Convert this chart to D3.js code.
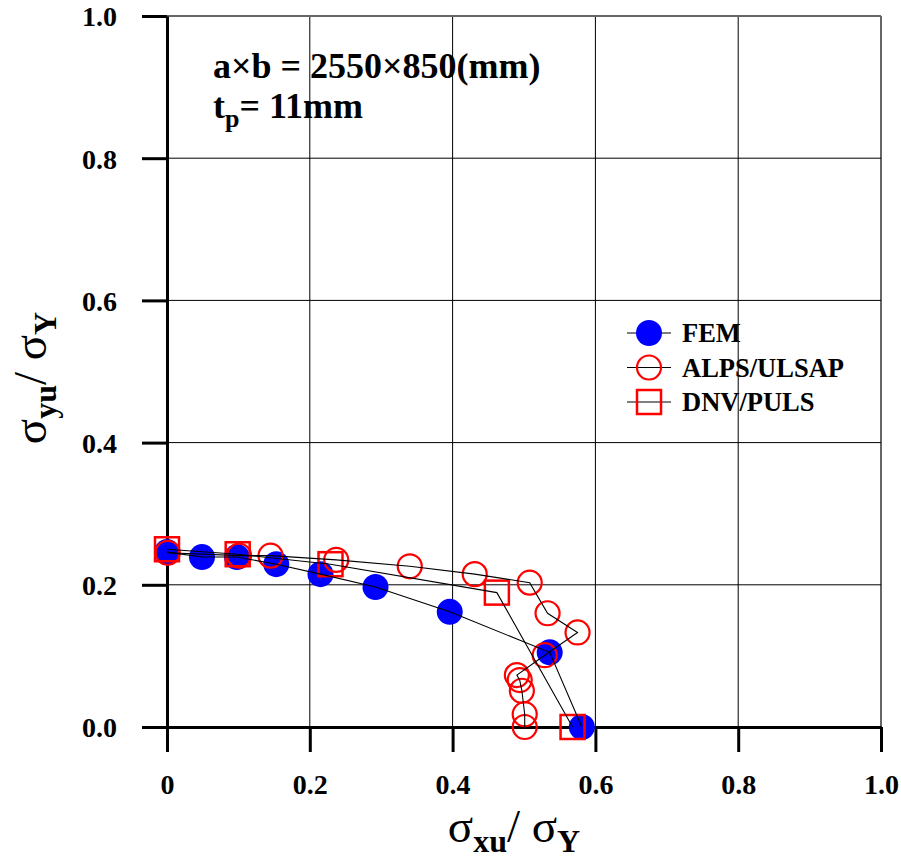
<!DOCTYPE html>
<html>
<head>
<meta charset="utf-8">
<script src="https://cdn.jsdelivr.net/npm/d3@7"></script>
<style>
  body { margin: 0; background: #fff; }
  text { font-family: "Liberation Serif", "Times New Roman", serif; font-weight: bold; }
</style>
</head>
<body>
<div id="chart"></div>
<script>
// values
const femX = [0, 0.049, 0.098, 0.153, 0.215, 0.292, 0.396, 0.536, 0.581];
const femY = [0.246, 0.239, 0.239, 0.229, 0.215, 0.197, 0.162, 0.105, 0];

const alpsX = [0.001, 0.101, 0.145, 0.237, 0.340, 0.431, 0.508, 0.533, 0.575, 0.529, 0.490, 0.494, 0.497, 0.501, 0.501];
const alpsY = [0.245, 0.241, 0.241, 0.235, 0.226, 0.215, 0.203, 0.160, 0.133, 0.101, 0.073, 0.066, 0.051, 0.018, 0];

const dnvX = [0, 0.099, 0.229, 0.462, 0.568];
const dnvY = [0.250, 0.243, 0.229, 0.189, 0];

const xTicks = [0, 0.2, 0.4, 0.6, 0.8, 1.0];
const yTicks = [0, 0.2, 0.4, 0.6, 0.8, 1.0];
const xTickLabels = ["0", "0.2", "0.4", "0.6", "0.8", "1.0"];
const yTickLabels = ["0.0", "0.2", "0.4", "0.6", "0.8", "1.0"];

const seriesNames = ["FEM", "ALPS/ULSAP", "DNV/PULS"];

var W = 901, H = 862;
var margin = {top: 16, right: 20, bottom: 135, left: 167};
var width = 881 - margin.left,
    height = 727 - margin.top;

var svg = d3.select("#chart").append("svg")
    .attr("width", W)
    .attr("height", H)
  .append("g")
    .attr("transform", "translate(" + margin.left + "," + margin.top + ")");

var x = d3.scaleLinear().domain([0, 1]).range([0, width]);
var y = d3.scaleLinear().domain([0, 1]).range([height, 0]);

// grid
svg.selectAll("vgrid")
  .data(xTicks.slice(1))
  .enter().append("line")
    .attr("x1", d => x(d)).attr("x2", d => x(d))
    .attr("y1", y(0)).attr("y2", y(1))
    .attr("stroke", d => d == 1 ? "#333" : "#000")
    .attr("stroke-width", d => d == 1 ? 1.5 : 1);

svg.selectAll("hgrid")
  .data(yTicks.slice(1))
  .enter().append("line")
    .attr("x1", x(0)).attr("x2", x(1))
    .attr("y1", d => y(d)).attr("y2", d => y(d))
    .attr("stroke", d => d == 1 ? "#666" : "#000")
    .attr("stroke-width", d => d == 1 ? 2 : 1);

// axes
var xAxis = svg.append("g")
  .attr("transform", "translate(0," + height + ")")
  .call(d3.axisBottom(x).tickValues(xTicks).tickSize(25).tickSizeOuter(0).tickPadding(22)
        .tickFormat((d, i) => xTickLabels[i]));

var yAxis = svg.append("g")
  .call(d3.axisLeft(y).tickValues(yTicks).tickSize(25).tickSizeOuter(0).tickPadding(25)
        .tickFormat((d, i) => yTickLabels[i]));

[xAxis, yAxis].forEach(function(a) {
  a.select(".domain").attr("stroke", "#000").attr("stroke-width", 3);
  a.selectAll(".tick line").attr("stroke", "#000").attr("stroke-width", 3);
  a.selectAll(".tick text")
    .attr("fill", "#000")
    .style("font-size", "28px")
    .style("font-family", "'Liberation Serif', 'Times New Roman', serif")
    .style("font-weight", "bold");
});
yAxis.selectAll(".tick text").attr("dy", "0.35em");

// markers
svg.selectAll("femDot")
  .data(femX)
  .enter().append("circle")
    .attr("cx", d => x(d))
    .attr("cy", (d, i) => y(femY[i]))
    .attr("r", 13)
    .attr("fill", "#0000ff");

svg.selectAll("alpsDot")
  .data(alpsX)
  .enter().append("circle")
    .attr("cx", d => x(d))
    .attr("cy", (d, i) => y(alpsY[i]))
    .attr("r", 12)
    .attr("fill", "none")
    .attr("stroke", "#ff0000")
    .attr("stroke-width", 2.2);

svg.selectAll("dnvBox")
  .data(dnvX)
  .enter().append("rect")
    .attr("x", d => x(d) - 12)
    .attr("y", (d, i) => y(dnvY[i]) - 12)
    .attr("width", 24)
    .attr("height", 24)
    .attr("fill", "none")
    .attr("stroke", "#ff0000")
    .attr("stroke-width", 2.5);

// lines
var line = d3.line()
  .x(d => x(d[0]))
  .y(d => y(d[1]));

[[femX, femY], [alpsX, alpsY], [dnvX, dnvY]].forEach(function(s) {
  svg.append("path")
    .datum(s[0].map((v, i) => [v, s[1][i]]))
    .attr("d", line)
    .attr("fill", "none")
    .attr("stroke", "#000")
    .attr("stroke-width", 1.1);
});

// annotation
var note = svg.append("g").attr("transform", "translate(" + (213 - margin.left) + ",0)");
note.append("text")
  .attr("y", 78 - margin.top)
  .style("font-size", "36px")
  .text("a×b = 2550×850(mm)");
var t2 = note.append("text")
  .attr("y", 118 - margin.top)
  .style("font-size", "36px");
t2.append("tspan").text("t");
t2.append("tspan").attr("dy", 9).style("font-size", "26px").text("p");
t2.append("tspan").attr("dy", -9).text("= 11mm");

// legend
var legend = svg.append("g")
  .attr("transform", "translate(" + (649 - margin.left) + "," + (333 - margin.top) + ")");
seriesNames.forEach(function(name, i) {
  var g = legend.append("g").attr("transform", "translate(0," + (i * 34.5) + ")");
  g.append("line").attr("x1", -22).attr("x2", 22).attr("stroke", "#000").attr("stroke-width", 1.2);
  if (i == 0) {
    g.append("circle").attr("r", 13).attr("fill", "#0000ff");
  } else if (i == 1) {
    g.append("circle").attr("r", 12).attr("fill", "none").attr("stroke", "#ff0000").attr("stroke-width", 2.2);
  } else {
    g.append("rect").attr("x", -12).attr("y", -12).attr("width", 24).attr("height", 24)
      .attr("fill", "none").attr("stroke", "#ff0000").attr("stroke-width", 2.5);
  }
  g.append("text")
    .attr("x", 33)
    .attr("dy", "0.35em")
    .style("font-size", "26.5px")
    .text(name);
});

// axis titles
var xt = svg.append("text")
  .attr("x", 514 - margin.left)
  .attr("y", 842 - margin.top)
  .attr("text-anchor", "middle")
  .style("font-weight", "normal")
  .style("font-size", "47px");
xt.append("tspan").text("σ");
xt.append("tspan").attr("dy", 10).style("font-size", "32px").style("font-weight", "bold").text("xu");
xt.append("tspan").attr("dy", -10).text("/ σ");
xt.append("tspan").attr("dy", 10).style("font-size", "32px").style("font-weight", "bold").text("Y");

var yt = svg.append("text")
  .attr("transform", "translate(" + (46 - margin.left) + "," + (378 - margin.top) + ") rotate(-90)")
  .attr("text-anchor", "middle")
  .style("font-weight", "normal")
  .style("font-size", "47px");
yt.append("tspan").text("σ");
yt.append("tspan").attr("dy", 10).style("font-size", "32px").style("font-weight", "bold").text("yu");
yt.append("tspan").attr("dy", -10).text("/ σ");
yt.append("tspan").attr("dy", 10).style("font-size", "32px").style("font-weight", "bold").text("Y");
</script>
</body>
</html>
